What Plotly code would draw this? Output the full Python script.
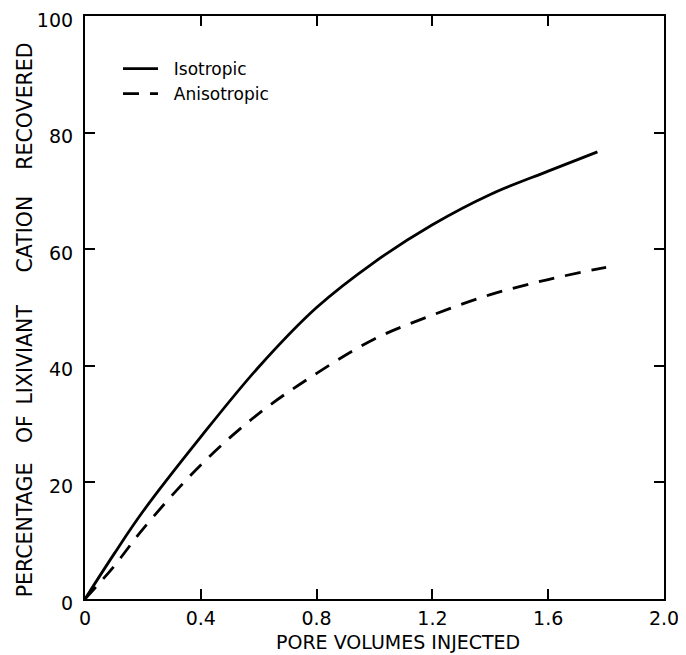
import plotly.graph_objects as go

# Pore volumes injected vs percentage recovered
iso_x = [0, 0.1, 0.2, 0.4, 0.6, 0.8, 1.0, 1.2, 1.4, 1.6, 1.77]
iso_y = [0, 7.7, 15.0, 27.8, 39.8, 50.0, 57.8, 64.2, 69.4, 73.4, 76.7]

aniso_x = [0, 0.1, 0.2, 0.4, 0.6, 0.8, 1.0, 1.2, 1.4, 1.6, 1.8]
aniso_y = [0, 5.6, 12.0, 23.0, 31.8, 38.7, 44.6, 48.7, 52.2, 54.8, 56.9]

x_ticks = [0, 0.4, 0.8, 1.2, 1.6, 2.0]
x_tick_labels = ["0", "0.4", "0.8", "1.2", "1.6", "2.0"]
y_ticks = [0, 20, 40, 60, 80, 100]
y_tick_labels = ["0", "20", "40", "60", "80", "100"]

x_title = "PORE VOLUMES INJECTED"
y_title = "PERCENTAGE   OF \u2009LIXIVIANT     CATION    RECOVERED"

FONT = "DejaVu Sans"

fig = go.Figure()
fig.add_trace(go.Scatter(x=iso_x, y=iso_y, mode="lines", name="  Isotropic",
                         line=dict(color="black", width=2.8, shape="spline")))
fig.add_trace(go.Scatter(x=aniso_x, y=aniso_y, mode="lines", name="  Anisotropic",
                         line=dict(color="black", width=2.8, shape="spline", dash="16px,11px")))

axis_common = dict(
    showline=True, linecolor="black", linewidth=2.2, mirror="ticks",
    ticks="inside", ticklen=10, tickwidth=2, tickcolor="black",
    showgrid=False, zeroline=False, automargin=False,
    ticklabeloverflow="allow",
    tickfont=dict(family=FONT, size=19, color="black"),
)

fig.update_xaxes(range=[0, 2.0], tickvals=x_ticks, ticktext=x_tick_labels,
                 ticklabelstandoff=1, **axis_common)
fig.update_yaxes(range=[0, 100], tickvals=y_ticks, ticktext=y_tick_labels,
                 ticklabelstandoff=6, ticklabelshift=4, **axis_common)

fig.add_annotation(text=x_title, xref="paper", yref="paper", x=0.54, y=-0.074,
                   xanchor="center", yanchor="middle", showarrow=False,
                   font=dict(family=FONT, size=19, color="black"))
fig.add_annotation(text=y_title, xref="paper", yref="paper", x=-0.1045, y=0.479,
                   xanchor="center", yanchor="middle", textangle=-90, showarrow=False,
                   font=dict(family=FONT, size=20.5, color="black"))

# Page body adds an 8 px offset, so the figure is sized to the remaining window
fig.update_layout(
    template="none",
    width=678, height=647,
    margin=dict(l=77, r=22, t=8, b=56),
    paper_bgcolor="white", plot_bgcolor="white",
    showlegend=True,
    legend=dict(x=0.057, y=0.94, xanchor="left", yanchor="top",
                bgcolor="rgba(0,0,0,0)", borderwidth=0, itemwidth=35,
                font=dict(family=FONT, size=17, color="black"),
                tracegroupgap=0),
)

fig.write_html("out.html")
